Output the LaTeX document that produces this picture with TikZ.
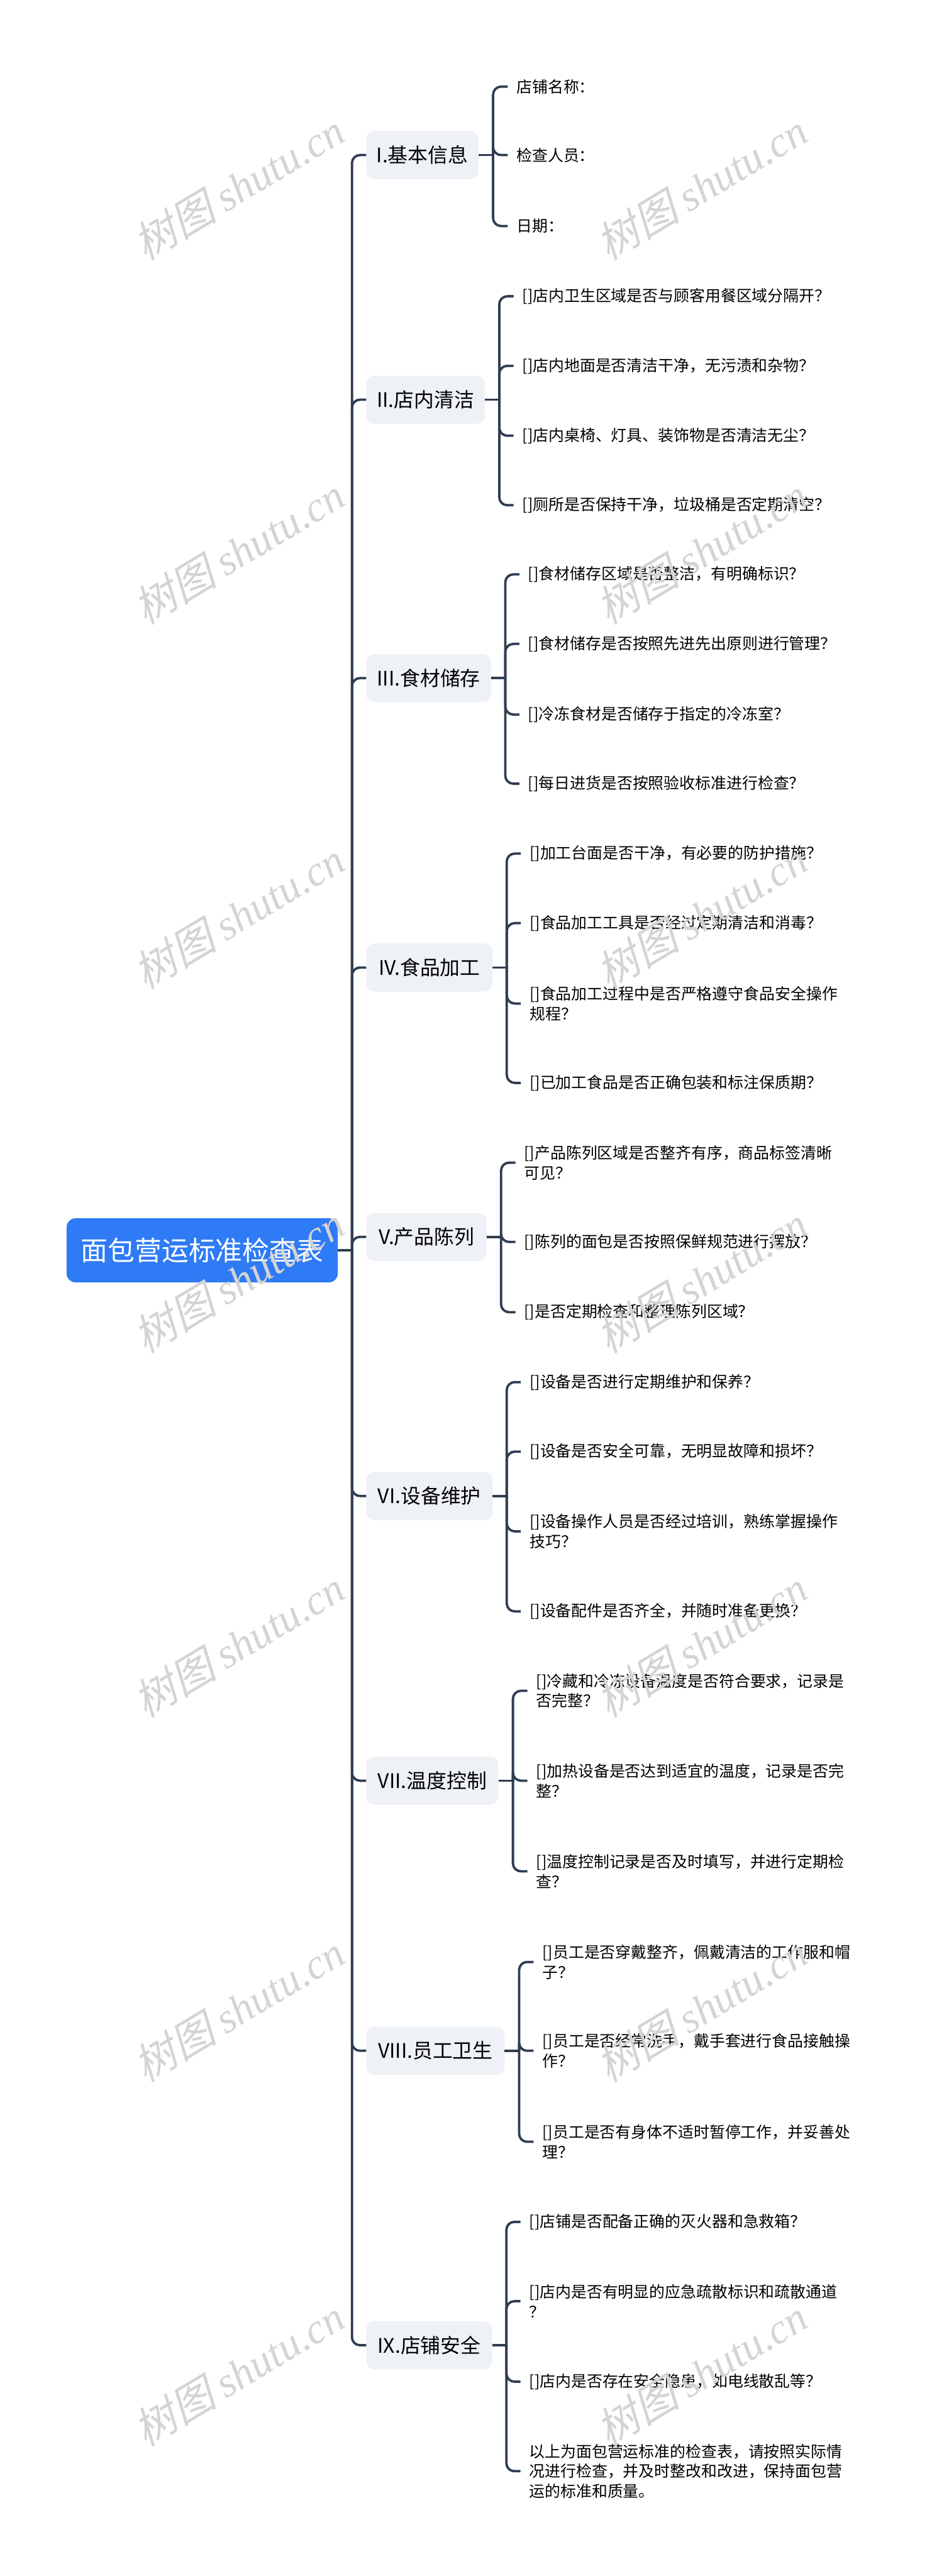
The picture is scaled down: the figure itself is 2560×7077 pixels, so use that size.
\documentclass[tikz,border=0pt]{standalone}
\usepackage{fontspec}
\setmainfont{Noto Sans CJK SC}
\newfontfamily\wmcjk{Noto Sans CJK SC}[FakeSlant=0.25]
\newfontfamily\wmlat{Liberation Serif}
\usetikzlibrary{calc}
\definecolor{lineclr}{HTML}{2F3D52}
\definecolor{rootclr}{HTML}{2F7BF6}
\definecolor{boxclr}{HTML}{EEF1F5}
\definecolor{wmclr}{HTML}{D4D4D4}
\tikzset{
 conn/.style={draw=lineclr, line width=6.5pt, rounded corners=22pt},
 stub/.style={draw=lineclr, line width=6.5pt, sharp corners},
 rootbox/.style={fill=rootclr, rounded corners=24pt, minimum width=745pt, minimum height=176pt, text=white, font=\fontsize{74pt}{88pt}\selectfont, inner sep=0pt},
 branch/.style={fill=boxclr, rounded corners=22pt, minimum height=132pt, inner sep=0pt, anchor=west, font=\fontsize{55pt}{66pt}\selectfont},
 leaf/.style={anchor=west, align=left, inner xsep=24pt, inner ysep=4pt, font=\fontsize{43pt}{55pt}\selectfont},
 wm/.style={text=wmclr, rotate=31, font=\fontsize{116pt}{130pt}\selectfont},
}
\newcommand{\wmtext}{{\wmcjk 树图} {\wmlat\itshape shutu.cn}}
\begin{document}
\begin{tikzpicture}[x=1pt,y=-1pt]
\fill[white] (0,0) rectangle (2560,7077);
\useasboundingbox (0,0) rectangle (2560,7077);

% root
\node[rootbox] (root) at (555.5,3435) {面包营运标准检查表};
\coordinate (tr) at (967,3435);

% branches
\node[branch, minimum width=308pt] (b1) at (1006,426) {I.基本信息};
\node[branch, minimum width=326pt] (b2) at (1006,1098) {II.店内清洁};
\node[branch, minimum width=343pt] (b3) at (1006,1863) {III.食材储存};
\node[branch, minimum width=347pt] (b4) at (1006,2658) {IV.食品加工};
\node[branch, minimum width=331pt] (b5) at (1006,3398) {V.产品陈列};
\node[branch, minimum width=347pt] (b6) at (1006,4110) {VI.设备维护};
\node[branch, minimum width=363pt] (b7) at (1006,4892) {VII.温度控制};
\node[branch, minimum width=380pt] (b8) at (1006,5634) {VIII.员工卫生};
\node[branch, minimum width=346pt] (b9) at (1006,6443) {IX.店铺安全};

\draw[stub] (root.east) -- (tr);
\foreach \b in {b1,b2,b3,b4,b5,b6,b7,b8,b9}{
  \draw[conn] (tr) |- (\b.west);
}

% leaves I
\node[leaf] (l11) at (1395,238) {店铺名称：};
\node[leaf] (l12) at (1395,426) {检查人员：};
\node[leaf] (l13) at (1395,621) {日期：};
% leaves II
\node[leaf] (l21) at (1411,814) {[]店内卫生区域是否与顾客用餐区域分隔开？};
\node[leaf] (l22) at (1411,1005) {[]店内地面是否清洁干净，无污渍和杂物？};
\node[leaf] (l23) at (1411,1197) {[]店内桌椅、灯具、装饰物是否清洁无尘？};
\node[leaf] (l24) at (1411,1388) {[]厕所是否保持干净，垃圾桶是否定期清空？};
% leaves III
\node[leaf] (l31) at (1427,1578) {[]食材储存区域是否整洁，有明确标识？};
\node[leaf] (l32) at (1427,1769) {[]食材储存是否按照先进先出原则进行管理？};
\node[leaf] (l33) at (1427,1963) {[]冷冻食材是否储存于指定的冷冻室？};
\node[leaf] (l34) at (1427,2153) {[]每日进货是否按照验收标准进行检查？};
% leaves IV
\node[leaf] (l41) at (1431,2345) {[]加工台面是否干净，有必要的防护措施？};
\node[leaf] (l42) at (1431,2536) {[]食品加工工具是否经过定期清洁和消毒？};
\node[leaf] (l43) at (1431,2757) {[]食品加工过程中是否严格遵守食品安全操作\\规程？};
\node[leaf] (l44) at (1431,2975) {[]已加工食品是否正确包装和标注保质期？};
% leaves V
\node[leaf] (l51) at (1416,3194) {[]产品陈列区域是否整齐有序，商品标签清晰\\可见？};
\node[leaf] (l52) at (1416,3412) {[]陈列的面包是否按照保鲜规范进行摆放？};
\node[leaf] (l53) at (1416,3605) {[]是否定期检查和整理陈列区域？};
% leaves VI
\node[leaf] (l61) at (1431,3797) {[]设备是否进行定期维护和保养？};
\node[leaf] (l62) at (1431,3988) {[]设备是否安全可靠，无明显故障和损坏？};
\node[leaf] (l63) at (1431,4207) {[]设备操作人员是否经过培训，熟练掌握操作\\技巧？};
\node[leaf] (l64) at (1431,4427) {[]设备配件是否齐全，并随时准备更换？};
% leaves VII
\node[leaf] (l71) at (1449,4645) {[]冷藏和冷冻设备温度是否符合要求，记录是\\否完整？};
\node[leaf] (l72) at (1449,4892) {[]加热设备是否达到适宜的温度，记录是否完\\整？};
\node[leaf] (l73) at (1449,5141) {[]温度控制记录是否及时填写，并进行定期检\\查？};
% leaves VIII
\node[leaf] (l81) at (1466,5390) {[]员工是否穿戴整齐，佩戴清洁的工作服和帽\\子？};
\node[leaf] (l82) at (1466,5634) {[]员工是否经常洗手，戴手套进行食品接触操\\作？};
\node[leaf] (l83) at (1466,5884) {[]员工是否有身体不适时暂停工作，并妥善处\\理？};
% leaves IX
\node[leaf] (l91) at (1430,6104) {[]店铺是否配备正确的灭火器和急救箱？};
\node[leaf] (l92) at (1430,6322) {[]店内是否有明显的应急疏散标识和疏散通道\\？};
\node[leaf] (l93) at (1430,6543) {[]店内是否存在安全隐患，如电线散乱等？};
\node[leaf] (l94) at (1430,6789) {以上为面包营运标准的检查表，请按照实际情\\况进行检查，并及时整改和改进，保持面包营\\运的标准和质量。};

% leaf connectors: straight stub from branch, then bracket arm rounded at the leaf end
\foreach \b/\l in {b1/l11,b1/l12,b1/l13,
                   b2/l21,b2/l22,b2/l23,b2/l24,
                   b3/l31,b3/l32,b3/l33,b3/l34,
                   b4/l41,b4/l42,b4/l43,b4/l44,
                   b5/l51,b5/l52,b5/l53,
                   b6/l61,b6/l62,b6/l63,b6/l64,
                   b7/l71,b7/l72,b7/l73,
                   b8/l81,b8/l82,b8/l83,
                   b9/l91,b9/l92,b9/l93,b9/l94}{
  \coordinate (m) at ($(\b.east)!0.5!(\b.east -| \l.west)$);
  \draw[stub] (\b.east) -- ([xshift=3.25pt]m);
  \draw[conn] (m) |- (\l.west);
}

% watermarks
\foreach \k in {0,...,6}{
  \node[wm] (wl\k) at (655,513+1001*\k) {\wmtext};
  \node[wm] (wr\k) at (1927,513+1001*\k) {\wmtext};
}
\end{tikzpicture}
\end{document}
